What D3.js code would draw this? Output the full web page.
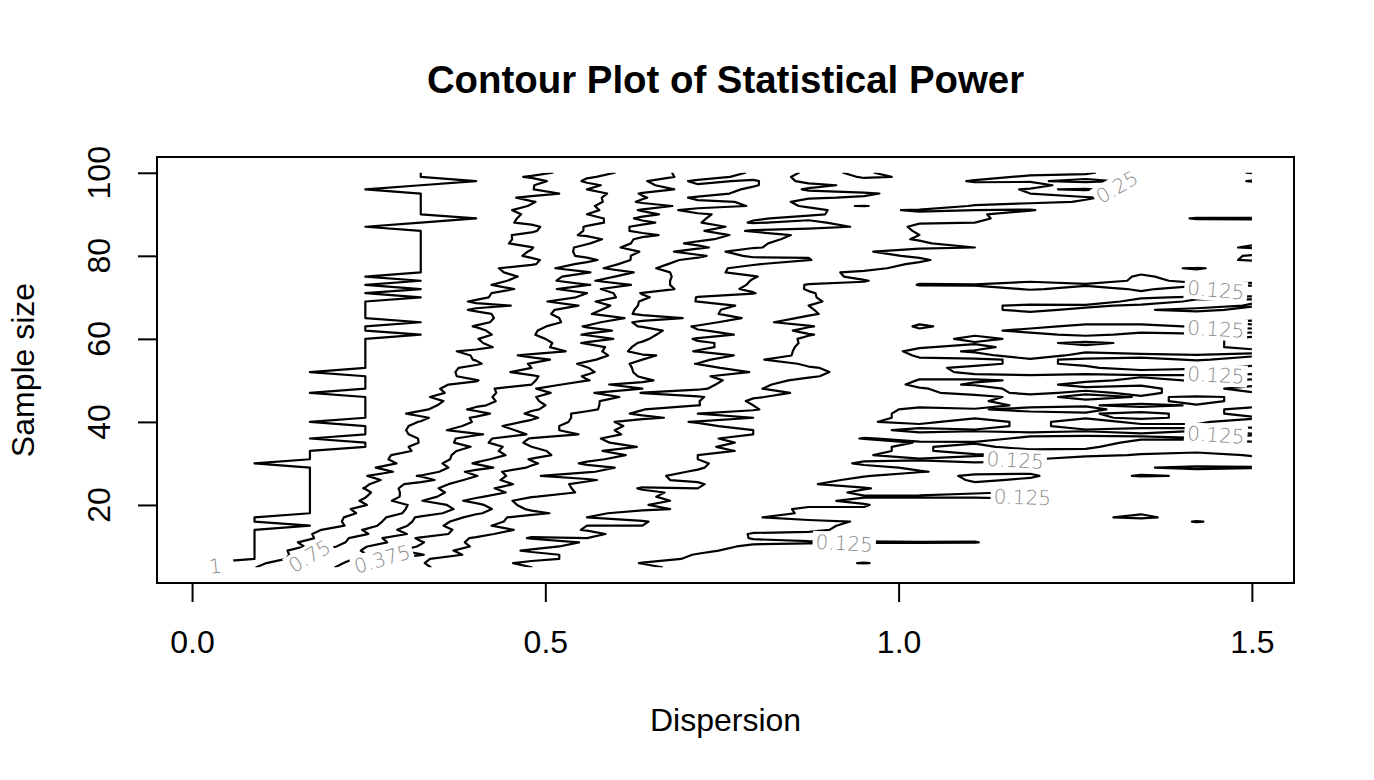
<!DOCTYPE html>
<html>
<head>
<meta charset="utf-8">
<script src="https://cdn.jsdelivr.net/npm/d3@7"></script>
<style>
  body { margin: 0; background: #fff; }
  svg { display: block; }
</style>
</head>
<body>
<svg id="chart" width="1374" height="780"></svg>
<script>
// ---------------- DATA ----------------
// Grid columns: dispersion values
const dispersion = [0.0100, 0.0884, 0.1668, 0.2453, 0.3237, 0.4021, 0.4805, 0.5589, 0.6374, 0.7158,
                    0.7942, 0.8726, 0.9511, 1.0295, 1.1079, 1.1863, 1.2647, 1.3432, 1.4216, 1.5000];
// Grid rows: sample sizes
const sampleSize = [5, 6, 7, 8, 9, 10, 11, 12, 13, 14, 15, 16, 17, 18, 19, 20, 21, 22, 23, 24,
                    25, 26, 27, 28, 29, 30, 31, 32, 33, 34, 35, 36, 37, 38, 39, 40, 41, 42, 43, 44,
                    45, 46, 47, 48, 49, 50, 51, 52, 53, 54, 55, 56, 57, 58, 59, 60, 61, 62, 63, 64,
                    65, 66, 67, 68, 69, 70, 71, 72, 73, 74, 75, 76, 77, 78, 79, 80, 81, 82, 83, 84,
                    85, 86, 87, 88, 89, 90, 91, 92, 93, 94, 95, 96, 97, 98, 99, 100];
// Estimated statistical power (percent); one row per sample size, one column per dispersion
const powerPct = [
  [100,88,73,50,40,26,25,16,15,8,10,7,7,9,5,7,7,6,7,6],
  [100,92,71,57,38,31,22,20,12,10,11,9,13,8,5,6,7,6,8,8],
  [100,100,78,58,39,30,28,22,16,11,11,7,8,8,5,9,6,8,9,9],
  [100,100,80,63,51,33,29,21,17,12,12,10,9,10,9,9,9,7,9,9],
  [100,100,79,61,44,33,23,24,19,14,10,7,8,8,7,8,8,9,8,10],
  [100,100,86,63,49,36,30,20,18,16,11,8,10,10,8,7,8,6,9,9],
  [100,100,84,70,51,34,31,24,18,16,14,14,13,13,13,6,10,7,7,6],
  [100,100,89,69,48,36,24,25,24,18,12,9,11,7,10,9,7,8,9,11],
  [100,100,88,76,58,42,28,29,17,17,12,11,11,8,11,7,7,8,8,9],
  [100,100,91,74,54,47,33,24,22,13,14,14,10,10,8,7,10,8,11,7],
  [100,100,100,80,57,40,31,25,25,19,13,13,12,9,8,9,11,7,10,10],
  [100,100,95,82,59,42,33,28,26,17,17,14,12,7,10,9,8,7,13,9],
  [100,100,93,84,60,47,30,25,20,23,13,10,8,9,10,8,11,14,9,7],
  [100,100,100,85,70,51,42,28,20,22,14,12,9,10,10,8,12,12,8,10],
  [100,100,100,83,72,56,35,29,27,23,16,11,12,11,10,8,12,9,10,10],
  [100,100,100,88,71,53,32,30,26,17,18,14,13,8,12,9,9,11,10,12],
  [100,100,100,86,63,46,33,34,29,21,19,14,11,8,8,12,10,9,11,10],
  [100,100,100,88,67,52,38,33,26,22,16,14,13,14,14,13,11,10,9,12],
  [100,100,100,90,66,58,43,36,27,22,22,16,11,9,12,13,10,11,8,12],
  [100,100,100,87,67,53,44,35,24,25,17,16,13,9,12,10,11,9,9,10],
  [100,100,100,89,69,56,47,33,28,26,18,13,10,9,12,11,10,9,11,11],
  [100,100,100,90,81,57,41,40,26,24,19,16,10,10,13,12,12,9,12,12],
  [100,100,100,88,74,63,39,30,28,21,15,13,13,9,14,13,10,13,12,9],
  [100,100,100,91,84,57,42,39,29,24,18,16,13,13,10,12,12,11,10,9],
  [100,100,100,89,81,69,48,42,33,26,18,14,15,11,10,10,9,12,14,13],
  [100,100,97,92,84,61,52,35,32,27,17,18,11,11,12,12,9,12,9,10],
  [100,100,100,90,84,67,49,41,30,25,19,17,14,13,14,13,9,11,11,11],
  [100,100,100,94,80,71,55,41,36,25,20,15,13,10,12,13,14,12,10,13],
  [100,100,100,95,86,69,53,42,26,27,24,17,13,12,14,14,13,14,14,13],
  [100,100,100,100,84,74,50,42,37,27,21,17,13,12,14,10,12,14,14,13],
  [100,100,100,100,87,67,47,42,31,27,24,20,16,12,12,10,10,14,14,13],
  [100,100,100,97,87,68,49,38,36,28,20,18,12,14,15,11,10,12,12,11],
  [100,100,100,100,84,77,61,48,31,25,25,17,15,14,14,14,14,13,15,13],
  [100,100,100,100,83,66,61,39,36,31,25,22,14,11,12,11,12,11,12,10],
  [100,100,100,100,84,72,52,48,32,28,20,21,16,14,15,11,15,14,13,14],
  [100,100,100,96,87,74,60,45,30,24,22,21,13,11,15,11,15,11,12,14],
  [100,100,100,100,90,73,65,44,41,32,25,23,13,12,12,10,12,13,12,12],
  [100,100,100,100,83,80,60,46,35,25,21,21,14,11,11,11,12,14,11,14],
  [100,100,100,100,90,72,64,53,38,26,26,17,15,11,12,14,14,10,11,14],
  [100,100,100,100,92,77,66,52,43,38,25,18,13,14,15,11,12,14,12,11],
  [100,100,100,100,92,81,64,53,40,38,23,21,15,15,13,11,11,10,15,10],
  [100,100,100,100,89,80,63,57,45,39,26,21,14,15,15,10,15,12,13,12],
  [100,100,100,97,94,79,68,52,37,30,31,22,17,14,10,14,11,14,10,12],
  [100,100,100,100,91,81,63,57,50,40,26,20,15,13,10,15,14,14,10,15],
  [100,100,100,100,89,86,75,52,47,42,28,19,17,11,13,15,10,12,12,11],
  [100,100,100,100,93,88,76,63,52,42,32,21,21,12,12,13,14,11,13,12],
  [100,100,100,100,94,84,77,61,49,40,29,27,17,14,14,13,13,13,13,14],
  [100,100,100,97,95,83,70,65,47,44,37,28,20,15,11,11,12,11,11,11],
  [100,100,100,100,95,84,75,63,47,44,28,26,21,13,12,11,12,14,13,12],
  [100,100,100,100,96,89,74,60,47,37,33,23,17,13,13,12,13,13,15,13],
  [100,100,100,100,95,87,80,65,50,41,26,21,16,13,13,12,13,14,12,14],
  [100,100,100,100,92,87,71,69,52,44,34,21,16,12,11,15,11,11,12,12],
  [100,100,100,100,94,84,83,70,43,37,30,23,16,11,13,13,13,15,15,13],
  [100,100,100,100,94,92,77,71,45,39,34,22,14,13,11,15,13,13,13,12],
  [100,100,100,100,96,88,84,60,49,39,34,23,13,13,13,13,12,13,13,12],
  [100,100,100,100,95,88,76,72,52,36,37,22,18,15,11,14,14,14,14,11],
  [100,100,100,100,100,92,76,61,52,44,34,26,16,15,13,13,12,13,13,14],
  [100,100,100,100,94,90,76,67,57,38,35,21,18,13,13,12,11,12,11,11],
  [100,100,100,100,95,87,80,61,49,36,27,26,16,12,14,13,12,11,13,14],
  [100,100,100,100,100,89,83,68,46,43,28,20,15,13,13,14,13,14,14,11],
  [100,100,100,100,94,92,78,72,58,47,35,22,15,14,14,14,13,15,13,15],
  [100,100,100,100,95,90,81,64,47,39,35,27,16,14,13,13,14,14,15,13],
  [100,100,100,100,96,86,80,68,47,40,34,26,16,13,13,12,13,13,11,14],
  [100,100,100,100,96,90,86,73,48,49,32,25,20,15,13,12,12,13,15,12],
  [100,100,100,100,96,86,79,65,49,37,28,26,22,14,15,14,15,11,13,13],
  [100,100,100,100,100,90,79,74,52,37,32,26,19,14,14,14,14,13,12,12],
  [100,100,100,100,96,90,81,75,49,42,38,26,18,16,14,15,16,13,15,14],
  [100,100,100,100,100,93,85,63,61,42,36,24,21,17,15,12,14,12,14,15],
  [100,100,100,100,97,90,81,76,59,41,37,24,22,12,12,11,12,11,12,12],
  [100,100,100,100,100,92,84,64,54,46,37,29,26,14,17,13,14,12,13,13],
  [100,100,100,100,97,92,86,66,59,42,38,32,21,21,19,16,15,12,14,14],
  [100,100,100,100,100,89,86,76,60,40,35,29,22,23,17,14,13,13,14,14],
  [100,100,100,100,100,92,81,67,52,44,32,32,30,18,15,15,15,14,12,15],
  [100,100,100,100,100,92,89,71,56,43,39,28,28,24,20,17,15,14,16,15],
  [100,100,100,100,100,94,89,79,58,46,44,38,28,26,21,15,17,14,14,12],
  [100,100,100,100,100,95,86,72,60,53,34,37,27,24,24,17,15,14,15,12],
  [100,100,100,100,100,94,87,71,62,41,34,35,26,20,17,15,13,14,15,15],
  [100,100,100,100,100,93,88,71,57,53,38,35,28,27,25,19,15,14,14,12],
  [100,100,100,100,100,94,83,76,59,47,41,28,31,27,18,21,15,15,14,13],
  [100,100,100,100,100,94,84,81,59,53,43,32,30,24,24,17,14,15,13,15],
  [100,100,100,100,100,92,85,73,66,54,47,33,29,25,19,17,17,16,17,14],
  [100,100,100,100,100,94,89,74,59,52,35,32,32,24,24,20,17,14,17,14],
  [100,100,100,100,97,94,90,74,59,52,48,42,36,22,20,21,14,15,15,14],
  [100,100,100,100,100,93,85,79,66,51,36,42,28,26,25,22,21,15,15,14],
  [100,100,100,100,100,100,83,82,59,52,39,34,34,27,27,20,16,16,12,12],
  [100,100,100,100,100,94,86,75,67,52,44,39,34,27,27,18,19,15,16,15],
  [100,100,100,100,100,94,84,79,61,44,38,43,27,24,25,26,15,13,15,16],
  [100,100,100,100,100,94,87,76,69,57,49,35,38,32,24,19,19,13,15,15],
  [100,100,100,100,100,92,88,81,60,52,49,32,30,31,29,28,24,18,15,16],
  [100,100,100,100,100,94,85,79,64,47,50,39,36,31,27,26,26,21,15,15],
  [100,100,100,100,100,94,92,83,61,58,44,41,40,31,32,25,20,23,13,13],
  [100,100,100,100,98,93,88,75,70,57,48,36,29,25,29,24,26,19,17,15],
  [100,100,100,100,100,95,88,78,66,51,51,41,34,30,30,29,19,15,15,15],
  [100,100,100,100,100,100,93,73,64,47,52,33,36,36,23,24,27,23,17,12],
  [100,100,100,100,100,96,86,76,70,57,45,34,38,37,31,22,23,16,17,17],
  [100,100,100,100,100,94,92,80,70,56,49,35,39,31,31,30,26,20,17,12]
];
// Contour levels
const levels = [0.125, 0.25, 0.375, 0.5, 0.625, 0.75, 0.875, 1];
// Axis ticks
const xTickValues = [0, 0.5, 1.0, 1.5];
const xTickLabels = ["0.0", "0.5", "1.0", "1.5"];
const yTickValues = [20, 40, 60, 80, 100];
const yTickLabels = ["20", "40", "60", "80", "100"];
// Contour labels (text and anchor in data units)
const labelText = ["1", "0.75", "0.375", "0.125", "0.125", "0.125", "0.125", "0.125", "0.125", "0.125", "0.25"];
const labelDisp = [0.033, 0.166, 0.269, 0.923, 1.175, 1.165, 1.449, 1.449, 1.449, 1.449, 1.309];
const labelSize = [5.3, 7.7, 7.0, 10.8, 21.9, 30.8, 36.9, 51.3, 62.4, 71.8, 96.6];
// label rotation (degrees) and extra gap (px), style settings
const labelAngle = [-6, -30, -16, 3, 2, 3, 4, 3, 3, 5, -30];
const labelGap = [12, 3, 3, 3, 3, 3, 3, 3, 3, 3, 3];

// ---------------- CHART ----------------
const svg = d3.select("#chart");
const FONT = "'Liberation Sans', Arial, Helvetica, sans-serif";
const plot = { left: 157, right: 1294, top: 157, bottom: 583 };

const xMin = d3.min(dispersion), xMax = d3.max(dispersion);
const yMin = d3.min(sampleSize), yMax = d3.max(sampleSize);
const xPad = (xMax - xMin) * 0.04, yPad = (yMax - yMin) * 0.04;
const x = d3.scaleLinear().domain([xMin - xPad, xMax + xPad]).range([plot.left, plot.right]);
const y = d3.scaleLinear().domain([yMin - yPad, yMax + yPad]).range([plot.bottom, plot.top]);

// padded grid for d3.contours
const nx = dispersion.length, ny = sampleSize.length;
const gw = nx + 2, gh = ny + 2;
const values = new Array(gw * gh).fill(-1);
for (let i = 0; i < ny; i++) {
  for (let j = 0; j < nx; j++) {
    values[(i + 1) * gw + (j + 1)] = powerPct[i][j] / 100;
  }
}
const gridX = d3.scaleLinear().domain([0, nx - 1]).range([dispersion[0], dispersion[nx - 1]]);
const gridY = d3.scaleLinear().domain([0, ny - 1]).range([sampleSize[0], sampleSize[ny - 1]]);

const contours = d3.contours().size([gw, gh]).thresholds(levels)(values);

const eps = 1e-6;
function edgeFlags(p) {
  const gx = p[0] - 1.5, gy = p[1] - 1.5;
  return {
    gx, gy,
    L: gx <= eps, R: gx >= nx - 1 - eps,
    B: gy <= eps, T: gy >= ny - 1 - eps
  };
}
const lines = [];
contours.forEach(c => {
  c.coordinates.forEach(poly => {
    poly.forEach(ring => {
      let cur = [];
      for (let k = 0; k < ring.length - 1; k++) {
        const a = edgeFlags(ring[k]), b = edgeFlags(ring[k + 1]);
        const drop = (a.L && b.L) || (a.R && b.R) || (a.B && b.B) || (a.T && b.T);
        if (drop) {
          if (cur.length > 1) lines.push(cur);
          cur = [];
        } else {
          if (cur.length === 0) cur.push([a.gx, a.gy]);
          cur.push([b.gx, b.gy]);
        }
      }
      if (cur.length > 1) lines.push(cur);
    });
  });
});

svg.append("defs").append("clipPath").attr("id", "dataClip")
  .append("rect")
  .attr("x", x(xMin)).attr("y", y(yMax))
  .attr("width", x(xMax) - x(xMin)).attr("height", y(yMin) - y(yMax));

const lineGen = d3.line().x(d => x(gridX(d[0]))).y(d => y(gridY(d[1])));
svg.append("g").attr("clip-path", "url(#dataClip)")
  .selectAll("path").data(lines).join("path")
  .attr("d", lineGen)
  .attr("fill", "none").attr("stroke", "#000").attr("stroke-width", 2.2)
  .attr("stroke-linejoin", "round").attr("stroke-linecap", "round");

// contour labels with line breaks (white backing)
const lab = svg.append("g");
labelText.forEach((t, i) => {
  const g = lab.append("g")
    .attr("transform", `translate(${x(labelDisp[i])},${y(labelSize[i])}) rotate(${labelAngle[i]})`);
  const txt = g.append("text").text(t)
    .attr("text-anchor", "middle").attr("dy", "0.36em")
    .attr("font-family", "'DejaVu Sans', sans-serif")
    .attr("font-weight", 200).attr("font-size", 20).attr("fill", "#8a8a8a");
  const bb = txt.node().getBBox();
  g.insert("rect", "text")
    .attr("x", bb.x - labelGap[i]).attr("y", bb.y + 1)
    .attr("width", bb.width + 2 * labelGap[i]).attr("height", bb.height - 2)
    .attr("fill", "#fff");
});

// box
svg.append("rect")
  .attr("x", plot.left).attr("y", plot.top)
  .attr("width", plot.right - plot.left).attr("height", plot.bottom - plot.top)
  .attr("fill", "none").attr("stroke", "#000").attr("stroke-width", 2);

// x axis
const xAxis = svg.append("g").attr("transform", `translate(0,${plot.bottom})`)
  .call(d3.axisBottom(x).tickValues(xTickValues).tickSize(19).tickPadding(28)
    .tickFormat((d, i) => xTickLabels[i]));
xAxis.select(".domain").attr("stroke", "#000").attr("stroke-width", 2)
  .attr("d", `M${x(xTickValues[0])},0H${x(xTickValues[xTickValues.length - 1])}`);
xAxis.selectAll(".tick line").attr("stroke", "#000").attr("stroke-width", 2);
xAxis.selectAll(".tick text").attr("font-family", FONT).attr("font-size", 32).attr("fill", "#000");

// y axis
const yAxis = svg.append("g").attr("transform", `translate(${plot.left},0)`)
  .call(d3.axisLeft(y).tickValues(yTickValues).tickSize(19).tickFormat(""));
yAxis.select(".domain").attr("stroke", "#000").attr("stroke-width", 2)
  .attr("d", `M0,${y(yTickValues[0])}V${y(yTickValues[yTickValues.length - 1])}`);
yAxis.selectAll(".tick line").attr("stroke", "#000").attr("stroke-width", 2);
yAxis.selectAll(".tick text").remove();
svg.append("g").selectAll("text").data(yTickValues).join("text")
  .attr("transform", d => `translate(110,${y(d)}) rotate(-90)`)
  .attr("text-anchor", "middle")
  .attr("font-family", FONT).attr("font-size", 32).attr("fill", "#000")
  .text((d, i) => yTickLabels[i]);

// titles
svg.append("text").attr("x", (plot.left + plot.right) / 2).attr("y", 93)
  .attr("text-anchor", "middle").attr("font-family", FONT)
  .attr("font-weight", "bold").attr("font-size", 38.4).attr("fill", "#000")
  .text("Contour Plot of Statistical Power");
svg.append("text").attr("x", (plot.left + plot.right) / 2).attr("y", 731)
  .attr("text-anchor", "middle").attr("font-family", FONT)
  .attr("font-size", 32).attr("fill", "#000")
  .text("Dispersion");
svg.append("text")
  .attr("transform", `translate(34,${(plot.top + plot.bottom) / 2}) rotate(-90)`)
  .attr("text-anchor", "middle").attr("font-family", FONT)
  .attr("font-size", 32).attr("fill", "#000")
  .text("Sample size");
</script>
</body>
</html>
